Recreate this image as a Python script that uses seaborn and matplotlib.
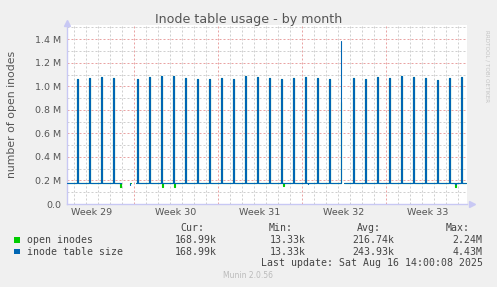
import numpy as np
import pandas as pd
import matplotlib
matplotlib.use("Agg")
import matplotlib.pyplot as plt
import seaborn as sns
from matplotlib.transforms import blended_transform_factory

# ---------------- data (millions of inodes, time in days from Monday of week 29) -------------
baseline = 0.175
spike_days = [2, 3, 4, 5, 7, 8, 9, 10, 11, 12, 13, 14, 15, 16, 17, 18, 19, 20, 21, 22,
              23, 24, 25, 26, 27, 28, 29, 30, 31, 32, 33, 34]
blue_peaks = [1.063, 1.071, 1.083, 1.071, 1.063, 1.080, 1.091, 1.089, 1.071, 1.063,
              1.063, 1.071, 1.063, 1.085, 1.080, 1.071, 1.063, 1.071, 1.080, 1.071,
              1.063, 1.383, 1.071, 1.063, 1.080, 1.071, 1.089, 1.080, 1.071, 1.054,
              1.071, 1.080]
green_peaks = [1.063, 1.071, 1.083, 1.071, 1.063, 1.080, 1.091, 1.089, 1.071, 1.063,
               1.063, 1.071, 1.063, 1.085, 1.080, 1.071, 1.063, 1.071, 1.080, 1.071,
               1.063, 0.870, 1.071, 1.063, 1.080, 1.071, 1.089, 1.080, 1.071, 1.054,
               1.071, 1.080]
segment_starts = [1.42, 5.76, 6.65, 7.20, 24.50]
segment_ends = [5.71, 5.90, 6.72, 24.26, 34.67]
blue_dip_days = [6.65, 21.46, 33.74]
blue_dip_vals = [0.165, 0.166, 0.168]
green_dip_days = [5.82, 9.37, 10.35, 19.39, 33.75]
green_dip_vals = [0.148, 0.144, 0.145, 0.149, 0.148]

week_label_days = [3.5, 10.5, 17.5, 24.5, 31.5]
week_labels = ["Week 29", "Week 30", "Week 31", "Week 32", "Week 33"]
week_boundaries = [7, 14, 21, 28]
y_ticks = [0.0, 0.2, 0.4, 0.6, 0.8, 1.0, 1.2, 1.4]
y_tick_labels = ["0.0", "0.2 M", "0.4 M", "0.6 M", "0.8 M", "1.0 M", "1.2 M", "1.4 M"]

legend_names = ["open inodes", "inode table size"]
legend_colors = ["#00cc00", "#0066b3"]
stat_headers = ["Cur:", "Min:", "Avg:", "Max:"]
stat_values = [["168.99k", "13.33k", "216.74k", "2.24M"],
               ["168.99k", "13.33k", "243.93k", "4.43M"]]

SPIKE_OFFSET = 0.21
SPIKE_WIDTH = 0.083
DIP_WIDTH = 0.08


def build_series(name, peaks, dip_days, dip_vals):
    rows = []
    for seg, (a, b) in enumerate(zip(segment_starts, segment_ends)):
        events = []
        for d, p in zip(spike_days, peaks):
            t0 = d + SPIKE_OFFSET
            if a <= t0 <= b:
                events.append((t0, p, SPIKE_WIDTH))
        for d, v in zip(dip_days, dip_vals):
            if a <= d <= b:
                events.append((d, v, DIP_WIDTH))
        events.sort()
        pts = [(a, baseline)]
        open_end = False
        for t0, v, w in events:
            pts.append((t0, baseline))
            pts.append((t0, v))
            if t0 + w <= b + 1e-9:
                pts.append((t0 + w, v))
                pts.append((t0 + w, baseline))
            else:
                open_end = True
                break
        if not open_end:
            pts.append((b, baseline))
        for i, (t, v) in enumerate(pts):
            rows.append({"t": t, "v": v * 1e6, "series": name, "seg": seg, "order": i})
    return pd.DataFrame(rows)


green_df = build_series("open inodes", green_peaks, green_dip_days, green_dip_vals)
blue_df = build_series("inode table size", blue_peaks, blue_dip_days, blue_dip_vals)

# ---------------- figure ------------------------------------------------------------------
sns.set_theme(style="white")
plt.rcParams["font.family"] = ["DejaVu Sans"]
plt.rcParams["path.simplify"] = False

W, H = 497, 287
fig = plt.figure(figsize=(W / 100, H / 100), dpi=100, facecolor="#f0f0f0")
x0, x1, ytop, ybot = 67, 467, 24.5, 204
ax = fig.add_axes([x0 / W, 1 - ybot / H, (x1 - x0) / W, (ybot - ytop) / H])
ax.set_facecolor("white")

xmin, xmax = 1.417, 34.75
ymax = 1.525e6
ax.set_xlim(xmin, xmax)
ax.set_ylim(0, ymax)

minor_col = "#cfcfcf"
major_col = "#e9a3a3"
dash = (0, (2, 2))
for d in range(2, 35):
    if d in week_boundaries:
        continue
    ax.axvline(d, color=minor_col, lw=0.72, ls=dash, zorder=0)
for k in range(1, 16):
    if k % 2 == 1:
        ax.axhline(k * 0.1e6, color=minor_col, lw=0.72, ls=dash, zorder=0)
for d in week_boundaries:
    ax.axvline(d, color=major_col, lw=0.72, ls=dash, zorder=0.5)
for yv in y_ticks[1:]:
    ax.axhline(yv * 1e6, color=major_col, lw=0.72, ls=dash, zorder=0.5)

sns.lineplot(data=green_df, x="t", y="v", units="seg", estimator=None, sort=False,
             color=legend_colors[0], lw=0.8, ax=ax, legend=False, zorder=2)
sns.lineplot(data=blue_df, x="t", y="v", units="seg", estimator=None, sort=False,
             color=legend_colors[1], lw=0.8, ax=ax, legend=False, zorder=3)

ax.set_xlabel("")
ax.set_ylabel("number of open inodes", fontsize=7.8, color="#555555")
ax.yaxis.set_label_coords(-0.125, 0.5)

ax.set_yticks([v * 1e6 for v in y_ticks])
ax.set_yticklabels(y_tick_labels, fontsize=6.8, color="#555555")
ax.set_yticks([k * 0.1e6 for k in range(1, 16, 2)], minor=True)
ax.tick_params(axis="y", which="both", direction="out", length=2, width=0.6,
               color="#999999", pad=2)

ax.set_xticks(week_boundaries)
ax.set_xticklabels([])
ax.set_xticks([d for d in range(2, 35) if d not in week_boundaries], minor=True)
ax.tick_params(axis="x", which="major", direction="out", length=2, width=0.6,
               color="#e07070")
ax.tick_params(axis="x", which="minor", direction="out", length=2, width=0.6,
               color="#aaaaaa")
trans = blended_transform_factory(ax.transData, fig.transFigure)
for d, lab in zip(week_label_days, week_labels):
    ax.text(d, 1 - 212.7 / H, lab, transform=trans, ha="center", va="center",
            fontsize=6.8, color="#555555")

for s in ["top", "right"]:
    ax.spines[s].set_visible(False)
for s in ["left", "bottom"]:
    ax.spines[s].set_color("#c8c8f4")
    ax.spines[s].set_linewidth(1.0)
ax.plot([0], [1.008], marker="^", ms=4, color="#c8c8f4", transform=ax.transAxes,
        clip_on=False)
ax.plot([1.012], [0], marker=">", ms=4, color="#c8c8f4", transform=ax.transAxes,
        clip_on=False)

# ---------------- texts -------------------------------------------------------------------
fig.text(248.5 / W, 1 - 19 / H, "Inode table usage - by month", ha="center", va="center",
         fontsize=9.1, color="#555555")
fig.text(487 / W, 1 - 30 / H, "RRDTOOL / TOBI OETIKER", rotation=270, ha="center",
         va="top", fontsize=4.1, color="#c4c4c4")

mono = "DejaVu Sans Mono"
tcol = "#444444"
hdr_x = [204, 293, 381, 470]
val_x = [217, 305.7, 394, 482.7]
for hx, h in zip(hdr_x, stat_headers):
    fig.text(hx / W, 1 - 227.7 / H, h, ha="right", va="center", family=mono,
             fontsize=7.1, color=tcol)
row_y = [240, 251.7]
for ry, name, col, vals in zip(row_y, legend_names, legend_colors, stat_values):
    fig.patches.append(plt.Rectangle((14 / W, 1 - (ry + 2.7) / H), 5.5 / W, 5.5 / H,
                                     transform=fig.transFigure, color=col, lw=0))
    fig.text(26.7 / W, 1 - ry / H, name, ha="left", va="center", family=mono,
             fontsize=7.1, color=tcol)
    for vx, v in zip(val_x, vals):
        fig.text(vx / W, 1 - ry / H, v, ha="right", va="center", family=mono,
                 fontsize=7.1, color=tcol)
fig.text(482.7 / W, 1 - 263.3 / H, "Last update: Sat Aug 16 14:00:08 2025", ha="right",
         va="center", family=mono, fontsize=7.1, color=tcol)
fig.text(247.7 / W, 1 - 276 / H, "Munin 2.0.56", ha="center", va="center",
         fontsize=5.5, color="#bbbbbb")

fig.savefig("out.png", dpi=100, facecolor=fig.get_facecolor())
